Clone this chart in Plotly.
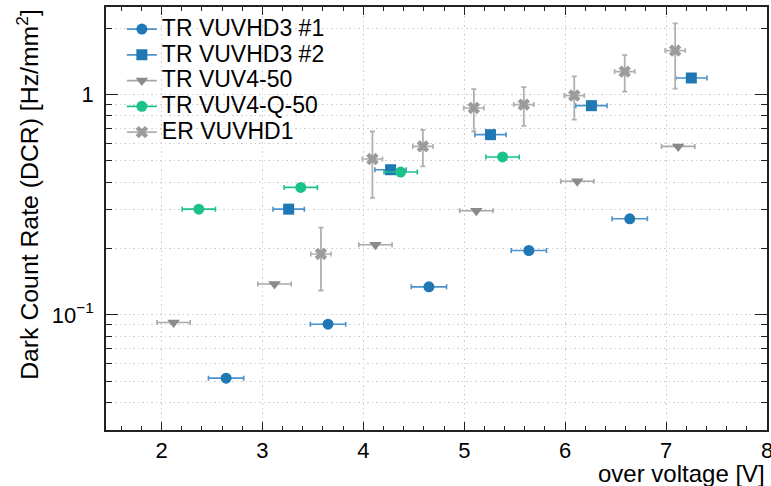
import plotly.graph_objects as go

# ---- data ----
vhd3_1_x = [2.64, 3.65, 4.65, 5.64, 6.64]
vhd3_1_y = [0.0516, 0.0907, 0.134, 0.196, 0.273]
vhd3_1_xerr = [0.175, 0.175, 0.175, 0.175, 0.175]

vhd3_2_x = [3.26, 4.27, 5.26, 6.26, 7.25]
vhd3_2_y = [0.302, 0.456, 0.658, 0.891, 1.19]
vhd3_2_xerr = [0.155, 0.155, 0.155, 0.155, 0.155]

vuv4_x = [2.12, 3.12, 4.12, 5.12, 6.12, 7.12]
vuv4_y = [0.0923, 0.138, 0.208, 0.297, 0.404, 0.582]
vuv4_xerr = [0.165, 0.165, 0.165, 0.165, 0.165, 0.165]

vuv4q_x = [2.37, 3.38, 4.37, 5.38]
vuv4q_y = [0.302, 0.379, 0.445, 0.521]
vuv4q_xerr = [0.165, 0.165, 0.165, 0.165]

er_x = [3.58, 4.09, 4.59, 5.095, 5.59, 6.09, 6.59, 7.09]
er_y = [0.189, 0.510, 0.582, 0.870, 0.901, 0.990, 1.272, 1.585]
er_xerr = [0.1, 0.1, 0.1, 0.1, 0.1, 0.1, 0.1, 0.1]
er_yerr = [0.06, 0.17, 0.11, 0.19, 0.18, 0.22, 0.24, 0.52]

y_major = [0.1, 1]
y_major_text = ["10<sup>−1</sup>", "1"]
y_minor = [0.04, 0.05, 0.06, 0.07, 0.08, 0.09, 0.2, 0.3, 0.4, 0.5, 0.6, 0.7, 0.8, 0.9, 2]
x_major = [2, 3, 4, 5, 6, 7, 8]

BLUE = "#1f77b4"
BLUE_ERR = "#4b93cc"
GREEN = "#1cc28c"
GRAY_T = "#8a8a8a"
GRAY_X = "#9c9c9c"
GRID = "#cfcfcf"
AX = "#222222"
FONT = "Liberation Sans, Arial, Helvetica, sans-serif"
LEG_PX = 23

series = [
    ("TR VUVHD3 #1", vhd3_1_x, vhd3_1_y, vhd3_1_xerr, None, BLUE, BLUE_ERR, "circle", 11),
    ("TR VUVHD3 #2", vhd3_2_x, vhd3_2_y, vhd3_2_xerr, None, BLUE, BLUE_ERR, "square", 11),
    ("TR VUV4-50", vuv4_x, vuv4_y, vuv4_xerr, None, GRAY_T, "#a8a8a8", "triangle-down", 11),
    ("TR VUV4-Q-50", vuv4q_x, vuv4q_y, vuv4q_xerr, None, GREEN, GREEN, "circle", 11),
    ("ER VUVHD1", er_x, er_y, er_xerr, er_yerr, GRAY_X, "#b0b0b0", "x", 11),
]

fig = go.Figure()
for name, xs, ys, xe, ye, col, ecol, sym, sz in series:
    tr = dict(
        x=xs, y=ys, mode="markers", name=name, showlegend=False,
        marker=dict(color=col, symbol=sym, size=sz, line=dict(width=0)),
        error_x=dict(type="data", array=xe, color=ecol, thickness=1.6, width=2.5),
    )
    if ye is not None:
        tr["error_y"] = dict(type="data", array=ye, color=ecol, thickness=1.8, width=2.5)
    fig.add_trace(go.Scatter(**tr))

# legend entries (line + marker, like the error-bar legend glyph)
for name, xs, ys, xe, ye, col, ecol, sym, sz in series:
    fig.add_trace(go.Scatter(
        x=[None], y=[None], mode="lines+markers",
        name=f"<span style='font-size:{LEG_PX}px'>{name}</span>",
        marker=dict(color=col, symbol=sym, size=sz, line=dict(width=0)),
        line=dict(color=ecol, width=1.6),
    ))

fig.update_layout(
    width=771, height=486,
    margin=dict(l=106, r=4, t=7, b=56, autoexpand=False),
    paper_bgcolor="white", plot_bgcolor="white",
    font=dict(family=FONT, size=22, color="black"),
    showlegend=True,
    legend=dict(
        x=0.024, y=0.99, xanchor="left", yanchor="top",
        bgcolor="rgba(255,255,255,0)", borderwidth=0,
        font=dict(size=17.5, family=FONT, color="black"),
        itemwidth=30, tracegroupgap=0,
    ),
)

fig.update_xaxes(
    range=[1.45, 8], tickvals=x_major, ticks="inside", ticklen=8, tickwidth=1.2,
    tickcolor=AX, showline=True, linecolor=AX, linewidth=1.5, mirror="ticks",
    showgrid=True, gridcolor=GRID, griddash="1.5px,3px", gridwidth=1,
    zeroline=False, automargin=False, ticklabeloverflow="allow",
    tickfont=dict(size=22, family=FONT, color="black"),
    minor=dict(dtick=0.2, tick0=0, ticks="inside", ticklen=4, tickcolor=AX,
               tickwidth=1.2, showgrid=False),
)
fig.update_yaxes(
    type="log", range=[-1.5229, 0.3979], tickvals=y_major, ticktext=y_major_text,
    ticks="inside", ticklen=12, tickwidth=1.2, tickcolor=AX,
    showline=True, linecolor=AX, linewidth=1.5, mirror="ticks",
    showgrid=True, gridcolor=GRID, griddash="1.5px,3px", gridwidth=1,
    zeroline=False, automargin=False, ticklabelstandoff=6,
    tickfont=dict(size=22, family=FONT, color="black"),
    minor=dict(tickvals=y_minor, ticks="inside", ticklen=6, tickcolor=AX,
               tickwidth=1.2, showgrid=True, gridcolor=GRID, griddash="1.5px,3px",
               gridwidth=1),
)

fig.add_annotation(
    text="Dark Count Rate (DCR) [Hz/mm<sup>2</sup>]", textangle=-90,
    xref="paper", yref="paper", x=-0.119, y=1.0, xanchor="center", yanchor="top",
    showarrow=False, font=dict(size=24.8, family=FONT, color="black"),
)
fig.add_annotation(
    text="over voltage [V]", xref="paper", yref="paper", x=1.0, y=-0.104,
    xanchor="right", yanchor="middle", showarrow=False,
    font=dict(size=24, family=FONT, color="black"),
)

fig.write_html(
    "out.html",
    config={"displayModeBar": False},
    post_script="document.body.style.margin='0px';document.body.style.padding='0px';",
)
